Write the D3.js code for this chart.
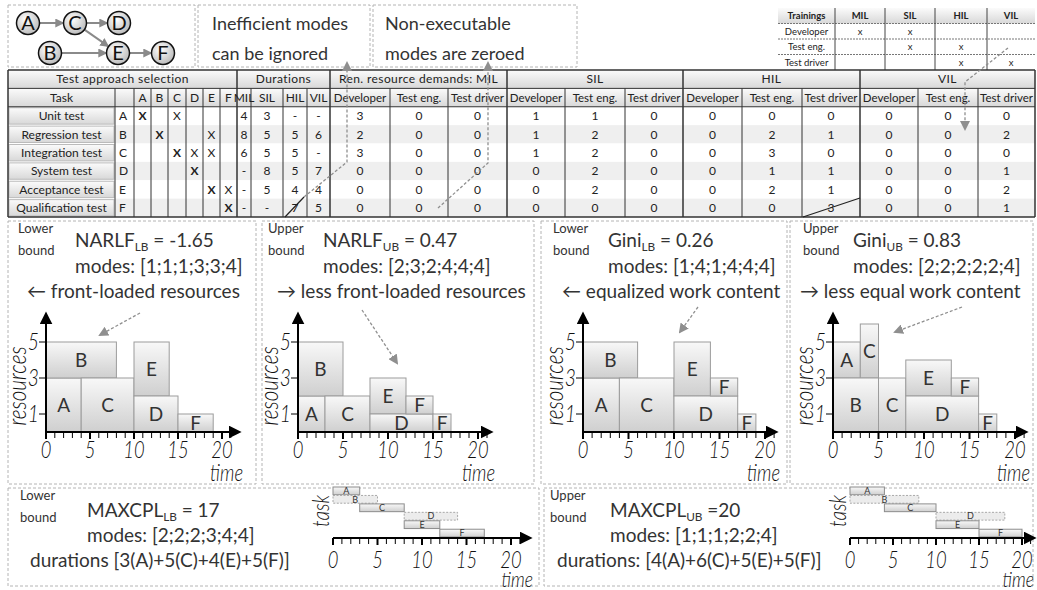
<!DOCTYPE html>
<meta charset="utf-8">
<script src="https://d3js.org/d3.v7.min.js"></script>
<style>
  body { margin: 0; background: #fff; }
  svg { display: block; font-family: Lato, "Open Sans", sans-serif; }
</style>
<svg id="fig" width="1037" height="590"></svg>
<script>

  // ---- data ----
  var taskNames = ["Unit test", "Regression test", "Integration test", "System test", "Acceptance test", "Qualification test"];
  var taskIds = ["A", "B", "C", "D", "E", "F"];
  // 2 = the task itself (bold X), 1 = related task (X)
  var selection = [
    [2, 0, 1, 0, 0, 0],
    [0, 2, 0, 0, 1, 0],
    [0, 0, 2, 1, 1, 0],
    [0, 0, 0, 2, 0, 0],
    [0, 0, 0, 0, 2, 1],
    [0, 0, 0, 0, 0, 2]];
  var modeNames = ["MIL", "SIL", "HIL", "VIL"];
  var durations = [
    ["4", "3", "-", "-"],
    ["8", "5", "5", "6"],
    ["6", "5", "5", "-"],
    ["-", "8", "5", "7"],
    ["-", "5", "4", "4"],
    ["-", "-", "7", "5"]];
  var roles = ["Developer", "Test eng.", "Test driver"];
  var demandsMIL = [[3, 0, 0], [2, 0, 0], [3, 0, 0], [0, 0, 0], [0, 0, 0], [0, 0, 0]];
  var demandsSIL = [[1, 1, 0], [1, 2, 0], [1, 2, 0], [0, 2, 0], [0, 2, 0], [0, 0, 0]];
  var demandsHIL = [[0, 0, 0], [0, 2, 1], [0, 3, 0], [0, 1, 1], [0, 2, 1], [0, 0, 3]];
  var demandsVIL = [[0, 0, 0], [0, 0, 2], [0, 0, 0], [0, 0, 1], [0, 0, 2], [0, 0, 1]];

  var trainingRoles = ["Developer", "Test eng.", "Test driver"];
  var trainings = [[1, 1, 0, 0], [0, 1, 1, 0], [0, 0, 1, 1]];

  var edges = [["A", "C"], ["C", "D"], ["C", "E"], ["B", "E"], ["E", "F"]];

  var notes = [["Inefficient modes", "can be ignored"], ["Non-executable", "modes are zeroed"]];

  // resource profiles: [task, start, end, resource from, resource to]
  var schedNarlfLB = [["A", 0, 4, 0, 3], ["B", 0, 8, 3, 5], ["C", 4, 10, 0, 3], ["E", 10, 14, 2, 5], ["D", 10, 15, 0, 2], ["F", 15, 19, 0, 1]];
  var schedNarlfUB = [["A", 0, 3, 0, 2], ["B", 0, 5, 2, 5], ["C", 3, 8, 0, 2], ["E", 8, 12, 1, 3], ["D", 8, 15, 0, 1], ["F", 12, 15, 1, 2], ["F", 15, 17, 0, 1]];
  var schedGiniLB = [["A", 0, 4, 0, 3], ["B", 0, 6, 3, 5], ["C", 4, 10, 0, 3], ["E", 10, 14, 2, 5], ["D", 10, 17, 0, 2], ["F", 14, 17, 2, 3], ["F", 17, 19, 0, 1]];
  var schedGiniUB = [["A", 0, 3, 3, 5], ["C", 3, 5, 3, 6], ["B", 0, 5, 0, 3], ["C", 5, 8, 0, 3], ["E", 8, 13, 2, 4], ["D", 8, 16, 0, 2], ["F", 13, 16, 2, 3], ["F", 16, 18, 0, 1]];

  var panelBoundWord = ["Lower", "Upper", "Lower", "Upper"];
  var panelMetric = ["NARLF", "NARLF", "Gini", "Gini"];
  var panelSub = ["LB", "UB", "LB", "UB"];
  var panelValue = [" = -1.65", " = 0.47", " = 0.26", " = 0.83"];
  var panelModes = ["modes: [1;1;1;3;3;4]", "modes: [2;3;2;4;4;4]", "modes: [1;4;1;4;4;4]", "modes: [2;2;2;2;2;4]"];
  var panelNote = ["\u2190 front-loaded resources", "\u2192 less front-loaded resources", "\u2190 equalized work content", "\u2192 less equal work content"];
  var yTicks = [1, 3, 5];
  var xTickLabels = [0, 5, 10, 15, 20];

  // critical path schedules: [task, start, end]
  var ganttLB = [["A", 0, 3], ["B", 0, 5], ["C", 3, 8], ["D", 8, 14], ["E", 8, 12], ["F", 12, 17]];
  var ganttUB = [["A", 0, 4], ["B", 0, 8], ["C", 4, 10], ["D", 10, 18], ["E", 10, 15], ["F", 15, 20]];
  var criticalTasks = ["A", "C", "E", "F"];
  var cplBoundWord = ["Lower", "Upper"];
  var cplSub = ["LB", "UB"];
  var cplValue = [" = 17", " =20"];
  var cplModes = ["modes: [2;2;2;3;4;4]", "modes: [1;1;1;2;2;4]"];
  var cplDurations = ["durations [3(A)+5(C)+4(E)+5(F)]", "durations: [4(A)+6(C)+5(E)+5(F)]"];

  // ---- setup ----
  var svg = d3.select("#fig");
  var defs = svg.append("defs");

  function vGrad(id, top, bottom) {
    var g = defs.append("linearGradient").attr("id", id)
            .attr("x1", 0).attr("y1", 0).attr("x2", 0).attr("y2", 1);
    g.append("stop").attr("offset", "0%").attr("stop-color", top);
    g.append("stop").attr("offset", "100%").attr("stop-color", bottom);
  }
  vGrad("cellGrad", "#fbfbfb", "#d8d8d8");
  vGrad("barGrad", "#f8f8f8", "#cfcfcf");
  var rg = defs.append("radialGradient").attr("id", "nodeGrad")
          .attr("cx", "40%").attr("cy", "35%").attr("r", "70%");
  rg.append("stop").attr("offset", "0%").attr("stop-color", "#ffffff");
  rg.append("stop").attr("offset", "100%").attr("stop-color", "#b8b8b8");

  function marker(id, color, size) {
    defs.append("marker").attr("id", id)
            .attr("viewBox", "0 0 10 10").attr("refX", 8).attr("refY", 5)
            .attr("markerWidth", size).attr("markerHeight", size)
            .attr("markerUnits", "userSpaceOnUse").attr("orient", "auto")
            .append("path").attr("d", "M0,0L10,5L0,10Z").attr("fill", color);
  }
  marker("headGrey", "#8a8a8a", 9);
  marker("headDash", "#8f8f8f", 10);
  marker("headBlack", "#000", 13);

  // italic, narrow labels of the little charts
  function narrow(g, x, y, str, size, anchor, rotate) {
    return g.append("text")
            .attr("transform", "translate(" + x + "," + y + ")" + (rotate ? " rotate(-90)" : "") + " scale(0.8,1)")
            .attr("text-anchor", anchor).attr("font-size", size).attr("font-style", "italic")
            .attr("font-weight", 300).attr("fill", "#111").text(str);
  }

  // dashed frames
  var frames = [[8, 5, 195, 67], [198, 5, 370, 67], [373, 5, 577, 67],
    [8, 221, 256, 484], [262, 221, 534, 484], [541, 221, 787, 484], [790, 221, 1033, 484],
    [8, 488, 539, 586], [544, 488, 1033, 586]];
  svg.append("g").selectAll("rect").data(frames).join("rect")
          .attr("x", d => d[0]).attr("y", d => d[1])
          .attr("width", d => d[2] - d[0]).attr("height", d => d[3] - d[1])
          .attr("fill", "none").attr("stroke", "#b4b4b4").attr("stroke-dasharray", "3,2");

  // ---- precedence graph ----
  var nodePos = {A: [28, 23], C: [75, 23], D: [119, 23], B: [50, 53], E: [118, 53], F: [163, 53]};
  var nodeR = 11.5;
  var graph = svg.append("g");
  graph.selectAll("line").data(edges).join("line")
          .each(function (d) {
            var a = nodePos[d[0]], b = nodePos[d[1]];
            var dx = b[0] - a[0], dy = b[1] - a[1], L = Math.hypot(dx, dy);
            d3.select(this)
                    .attr("x1", a[0] + dx / L * nodeR).attr("y1", a[1] + dy / L * nodeR)
                    .attr("x2", b[0] - dx / L * (nodeR + 1)).attr("y2", b[1] - dy / L * (nodeR + 1));
          })
          .attr("stroke", "#8a8a8a").attr("stroke-width", 2).attr("marker-end", "url(#headGrey)");
  var nodes = graph.selectAll("g.node").data(taskIds).join("g")
          .attr("transform", d => "translate(" + nodePos[d] + ")");
  nodes.append("circle").attr("r", nodeR).attr("fill", "url(#nodeGrad)").attr("stroke", "#111").attr("stroke-width", 1.5);
  nodes.append("text").attr("text-anchor", "middle").attr("dy", "0.36em")
          .attr("font-size", 20).attr("fill", "#111").text(d => d);

  // notes
  var noteX = [212, 385];
  notes.forEach(function (lines, i) {
    lines.forEach(function (s, j) {
      svg.append("text").attr("x", noteX[i]).attr("y", 30 + j * 30)
              .attr("font-size", 18).attr("fill", "#333").text(s);
    });
  });

  // ---- trainings table ----
  var trCols = [778, 835, 885, 935, 987, 1035];
  var trRow = d3.scaleLinear().domain([0, 4]).range([8, 70]);
  var tr = svg.append("g").attr("font-size", 9.5).attr("fill", "#222");
  tr.append("rect").attr("x", trCols[0]).attr("y", trRow(0)).attr("width", trCols[5] - trCols[0])
          .attr("height", trRow(1) - trRow(0)).attr("fill", "url(#cellGrad)");
  [1, 2, 3].forEach(function (r) {
    tr.append("line").attr("x1", trCols[0]).attr("x2", trCols[5]).attr("y1", trRow(r)).attr("y2", trRow(r))
            .attr("stroke", "#777").attr("stroke-dasharray", "2,1");
  });
  trCols.slice(1, 5).forEach(function (x) {
    tr.append("line").attr("x1", x).attr("x2", x).attr("y1", trRow(0)).attr("y2", trRow(4)).attr("stroke", "#444");
  });
  ["Trainings"].concat(modeNames).forEach(function (h, c) {
    tr.append("text").attr("x", (trCols[c] + trCols[c + 1]) / 2).attr("y", (trRow(0) + trRow(1)) / 2)
            .attr("dy", "0.35em").attr("text-anchor", "middle").attr("font-weight", "bold").text(h);
  });
  trainingRoles.forEach(function (role, r) {
    var cy = (trRow(r + 1) + trRow(r + 2)) / 2;
    tr.append("text").attr("x", (trCols[0] + trCols[1]) / 2).attr("y", cy).attr("dy", "0.35em")
            .attr("text-anchor", "middle").text(role);
    trainings[r].forEach(function (v, c) {
      if (v) tr.append("text").attr("x", (trCols[c + 1] + trCols[c + 2]) / 2).attr("y", cy).attr("dy", "0.35em")
              .attr("text-anchor", "middle").text("x");
    });
  });

  // ---- main table ----
  var colEdges = [8, 115, 134, 151, 168, 186, 203, 220, 237, 251, 283, 307, 330,
    390, 448, 507, 565, 625, 683, 742, 802, 860, 918, 978, 1035];
  var rowY = d3.scaleLinear().domain([0, 8]).range([70, 217]);
  var tbl = svg.append("g").attr("font-size", 12).attr("fill", "#222");
  var allDemands = [demandsMIL, demandsSIL, demandsHIL, demandsVIL];

  function cellX(c) { return (colEdges[c] + colEdges[c + 1]) / 2; }

  // backgrounds
  tbl.append("rect").attr("x", colEdges[0]).attr("y", rowY(0)).attr("width", colEdges[24] - colEdges[0])
          .attr("height", rowY(1) - rowY(0)).attr("fill", "url(#cellGrad)");
  tbl.append("rect").attr("x", colEdges[0]).attr("y", rowY(1)).attr("width", colEdges[24] - colEdges[0])
          .attr("height", rowY(2) - rowY(1)).attr("fill", "url(#cellGrad)");
  taskNames.forEach(function (n, i) {
    tbl.append("rect").attr("x", colEdges[1]).attr("y", rowY(i + 2)).attr("width", colEdges[24] - colEdges[1])
            .attr("height", rowY(i + 3) - rowY(i + 2)).attr("fill", i % 2 ? "#efefef" : "#ffffff");
    tbl.append("rect").attr("x", colEdges[0] + 1).attr("y", rowY(i + 2) + 1).attr("width", colEdges[1] - colEdges[0] - 2)
            .attr("height", rowY(i + 3) - rowY(i + 2) - 2).attr("fill", "url(#cellGrad)").attr("stroke", "#bbb");
  });

  // grid
  [0, 1, 2, 8].forEach(function (r) {
    tbl.append("line").attr("x1", colEdges[0]).attr("x2", colEdges[24]).attr("y1", rowY(r)).attr("y2", rowY(r))
            .attr("stroke", "#333").attr("stroke-width", r === 0 || r === 8 ? 1.4 : 1);
  });
  var groupEdges = [0, 8, 12, 15, 18, 21, 24];
  colEdges.forEach(function (x, c) {
    var isGroup = groupEdges.indexOf(c) >= 0;
    tbl.append("line").attr("x1", x).attr("x2", x)
            .attr("y1", isGroup ? rowY(0) : rowY(1)).attr("y2", rowY(8))
            .attr("stroke", "#333").attr("stroke-width", isGroup ? 1.5 : 1);
  });

  // header texts
  var groups = [[0, 7, "Test approach selection"], [8, 11, "Durations"], [12, 14, "Ren. resource demands: MIL"],
    [15, 17, "SIL"], [18, 20, "HIL"], [21, 23, "VIL"]];
  groups.forEach(function (g) {
    tbl.append("text").attr("x", (colEdges[g[0]] + colEdges[g[1] + 1]) / 2)
            .attr("y", (rowY(0) + rowY(1)) / 2).attr("dy", "0.35em").attr("text-anchor", "middle")
            .attr("letter-spacing", 0.4).text(g[2]);
  });
  var head2 = ["Task", ""].concat(taskIds, modeNames, roles, roles, roles, roles);
  head2.forEach(function (h, c) {
    tbl.append("text").attr("x", cellX(c)).attr("y", (rowY(1) + rowY(2)) / 2).attr("dy", "0.35em")
            .attr("text-anchor", "middle").attr("font-size", c >= 12 ? 11.5 : 12).text(h);
  });

  // body
  taskNames.forEach(function (name, i) {
    var cy = (rowY(i + 2) + rowY(i + 3)) / 2;
    function put(c, s, bold) {
      tbl.append("text").attr("x", cellX(c)).attr("y", cy).attr("dy", "0.35em").attr("text-anchor", "middle")
              .attr("font-weight", bold ? "bold" : "normal").text(s);
    }
    put(0, name);
    tbl.append("text").attr("x", colEdges[1] + 4).attr("y", cy).attr("dy", "0.35em").text(taskIds[i]);
    selection[i].forEach(function (v, j) { if (v) put(2 + j, "X", v === 2); });
    durations[i].forEach(function (v, j) { put(8 + j, v); });
    allDemands.forEach(function (dm, m) {
      dm[i].forEach(function (v, k) { put(12 + m * 3 + k, v); });
    });
  });

  // ---- connectors ----
  var strikes = [[[285, 217], [304, 197]], [[803, 217], [860, 198]]];
  svg.append("g").selectAll("path").data(strikes).join("path")
          .attr("d", d3.line()).attr("fill", "none").attr("stroke", "#222").attr("stroke-width", 1.2);
  var pointers = [
    [[304, 197], [347, 162], [347, 63]],
    [[438, 208], [488, 163], [488, 63]],
    [[1008, 48], [965, 82], [965, 129]],
    [[140, 313], [100, 335]],
    [[362, 310], [397, 363]],
    [[698, 307], [680, 332]],
    [[962, 307], [895, 332]]];
  svg.append("g").selectAll("path").data(pointers).join("path")
          .attr("d", d3.line()).attr("fill", "none").attr("stroke", "#8f8f8f").attr("stroke-width", 1.3)
          .attr("stroke-dasharray", "3,2").attr("marker-end", "url(#headDash)");

  // ---- helpers ----
  function subText(g, x, y, name, sub, rest, size) {
    var t = g.append("text").attr("x", x).attr("y", y).attr("font-size", size).attr("fill", "#333");
    t.append("tspan").text(name);
    t.append("tspan").attr("font-size", size * 0.62).attr("dy", size * 0.22).text(sub);
    t.append("tspan").attr("dy", -size * 0.22).text(rest);
  }
  function boundWord(g, x, y, word) {
    g.append("text").attr("x", x).attr("y", y).attr("font-size", 13).attr("fill", "#333").text(word);
    g.append("text").attr("x", x).attr("y", y + 22).attr("font-size", 13).attr("fill", "#333").text("bound");
  }
  function xAxisTicks(g, x, y0, maxT) {
    g.selectAll("line.tk").data(d3.range(0, maxT + 1)).join("line").attr("class", "tk")
            .attr("x1", d => x(d)).attr("x2", d => x(d))
            .attr("y1", y0).attr("y2", d => y0 + (d % 5 === 0 ? 7 : 6))
            .attr("stroke", "#000").attr("stroke-width", d => d % 5 === 0 ? 2 : 1);
  }

  // ---- resource profile panels ----
  var panelScheds = [schedNarlfLB, schedNarlfUB, schedGiniLB, schedGiniUB];
  var panelLeft = [18, 268, 553, 803];
  var panelTextX = [75, 323, 608, 853];
  var panelNoteX = [27, 277, 562, 800];
  var panelOrigin = [46, 298, 583, 833];
  var panelUnit = [8.8, 9.0, 9.1, 9.1];
  var baseY = 432;

  panelScheds.forEach(function (sched, p) {
    var g = svg.append("g");
    boundWord(g, panelLeft[p], 233, panelBoundWord[p]);
    subText(g, panelTextX[p], 247, panelMetric[p], panelSub[p], panelValue[p], 19);
    g.append("text").attr("x", panelTextX[p]).attr("y", 273).attr("font-size", 19).attr("fill", "#333").text(panelModes[p]);
    g.append("text").attr("x", panelNoteX[p]).attr("y", 298).attr("font-size", 19).attr("fill", "#333").text(panelNote[p]);

    var ox = panelOrigin[p];
    var x = d3.scaleLinear().domain([0, 20]).range([ox, ox + 20 * panelUnit[p]]);
    var y = d3.scaleLinear().domain([0, 5]).range([baseY, baseY - 90]);

    g.selectAll("rect.bar").data(sched).join("rect").attr("class", "bar")
            .attr("x", d => x(d[1])).attr("y", d => y(d[4]))
            .attr("width", d => x(d[2]) - x(d[1])).attr("height", d => y(d[3]) - y(d[4]))
            .attr("fill", "url(#barGrad)").attr("stroke", "#9c9c9c");
    g.selectAll("text.bl").data(sched).join("text").attr("class", "bl")
            .attr("x", d => (x(d[1]) + x(d[2])) / 2).attr("y", d => (y(d[3]) + y(d[4])) / 2)
            .attr("dy", "0.36em").attr("text-anchor", "middle").attr("font-size", 19).attr("fill", "#333")
            .text(d => d[0]);

    // axes
    g.append("line").attr("x1", ox).attr("x2", ox).attr("y1", baseY).attr("y2", baseY - 118)
            .attr("stroke", "#000").attr("stroke-width", 2).attr("marker-end", "url(#headBlack)");
    g.append("line").attr("x1", ox).attr("x2", ox + 193).attr("y1", baseY).attr("y2", baseY)
            .attr("stroke", "#000").attr("stroke-width", 2).attr("marker-end", "url(#headBlack)");
    xAxisTicks(g, x, baseY, 21);
    g.selectAll("line.yt").data(yTicks).join("line").attr("class", "yt")
            .attr("x1", ox - 7).attr("x2", ox).attr("y1", d => y(d)).attr("y2", d => y(d))
            .attr("stroke", "#000").attr("stroke-width", 1);
    yTicks.forEach(function (v) { narrow(g, ox - 7, y(v) + 8, v, 24, "end"); });
    xTickLabels.forEach(function (v) { narrow(g, x(v), 458, v, 23, "middle"); });
    narrow(g, ox + 197, 481, "time", 23, "end");
    narrow(g, ox - 20, 386, "resources", 26, "middle", true);
  });

  // ---- critical path panels ----
  var ganttScheds = [ganttLB, ganttUB];
  var cplLeft = [20, 550];
  var cplTextX = [87, 610];
  var cplDurX = [30, 557];
  var ganttOrigin = [333, 850];
  var ganttSpan = [178, 172];
  var ganttY0 = 538;

  ganttScheds.forEach(function (sched, p) {
    var g = svg.append("g");
    boundWord(g, cplLeft[p], 500, cplBoundWord[p]);
    subText(g, cplTextX[p], 517, "MAXCPL", cplSub[p], cplValue[p], 19);
    g.append("text").attr("x", cplTextX[p]).attr("y", 542).attr("font-size", 19).attr("fill", "#333").text(cplModes[p]);
    g.append("text").attr("x", cplDurX[p]).attr("y", 567).attr("font-size", 19).attr("fill", "#333").text(cplDurations[p]);

    var ox = ganttOrigin[p];
    var x = d3.scaleLinear().domain([0, 20]).range([ox, ox + ganttSpan[p]]);
    var y = d3.scaleBand().domain(taskIds).range([487, 537]).paddingInner(0.08);

    g.selectAll("rect.gb").data(sched).join("rect").attr("class", "gb")
            .attr("x", d => x(d[1])).attr("y", d => y(d[0]))
            .attr("width", d => x(d[2]) - x(d[1])).attr("height", y.bandwidth())
            .attr("fill", d => criticalTasks.indexOf(d[0]) >= 0 ? "url(#barGrad)" : "#ececec")
            .attr("stroke", d => criticalTasks.indexOf(d[0]) >= 0 ? "#8c8c8c" : "#a8a8a8")
            .attr("stroke-dasharray", d => criticalTasks.indexOf(d[0]) >= 0 ? null : "2,1.5");
    g.selectAll("text.gl").data(sched).join("text").attr("class", "gl")
            .attr("x", d => (x(d[1]) + x(d[2])) / 2).attr("y", d => y(d[0]) + y.bandwidth() / 2)
            .attr("dy", "0.36em").attr("text-anchor", "middle").attr("font-size", 9).attr("fill", "#333")
            .text(d => d[0]);

    var axisEnd = Math.min(ox + 197, 1034);
    g.append("line").attr("x1", ox).attr("x2", axisEnd).attr("y1", ganttY0).attr("y2", ganttY0)
            .attr("stroke", "#000").attr("stroke-width", 2).attr("marker-end", "url(#headBlack)");
    xAxisTicks(g, x, ganttY0, 21);
    xTickLabels.forEach(function (v) { narrow(g, x(v), 568, v, 23, "middle"); });
    narrow(g, Math.min(ox + 200, 1034), 587, "time", 22, "end");
    narrow(g, ox - 4, 511, "task", 24, "middle", true);
  });

</script>
